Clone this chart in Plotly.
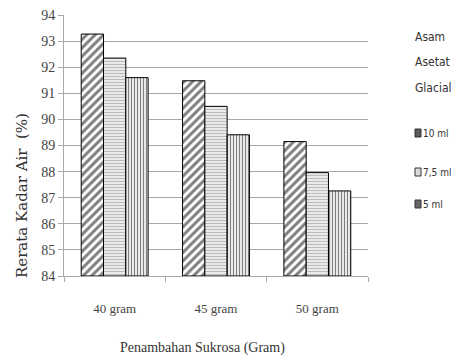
import plotly.graph_objects as go

categories = ["40 gram", "45 gram", "50 gram"]
series_names = ["10 ml", "7,5 ml", "5 ml"]
val_10ml = [93.27, 91.48, 89.15]
val_75ml = [92.35, 90.50, 87.96]
val_5ml = [91.60, 89.41, 87.26]
y_ticks = [84, 85, 86, 87, 88, 89, 90, 91, 92, 93, 94]
legend_title = ["Asam", "Asetat", "Glacial"]

series_values = [val_10ml, val_75ml, val_5ml]
patterns = [
    dict(shape="/", fgcolor="black", bgcolor="white", size=6, solidity=0.5),
    dict(shape="-", fgcolor="#8a8a8a", bgcolor="#efefef", size=3, solidity=0.4),
    dict(shape="|", fgcolor="black", bgcolor="white", size=3, solidity=0.45),
]
legend_fill = ["#5a5a5a", "#dcdcdc", "#666666"]

# page body has an 8px margin; plot area in page pixels: x 64..368, y 15..276
PX0, PX1, PY0, PY1 = 64, 368, 15, 276


def fx(px):
    return (px - PX0) / (PX1 - PX0)


def fy(py):
    return (PY1 - py) / (PY1 - PY0)


fig = go.Figure()
for i, (name, vals) in enumerate(zip(series_names, series_values)):
    fig.add_trace(go.Bar(
        x=categories, y=[v - 84 for v in vals], base=84, name=name,
        marker=dict(color="white", pattern=patterns[i],
                    line=dict(color="black", width=1)),
        showlegend=False,
    ))

fig.update_layout(
    width=451, height=354,
    margin=dict(l=56, r=91, t=7, b=86, autoexpand=False),
    plot_bgcolor="white", paper_bgcolor="white",
    barmode="group", bargap=0.34, bargroupgap=0,
    font=dict(family="Liberation Serif", color="#333"),
    showlegend=False,
)
fig.update_yaxes(range=[84, 94], tickvals=y_ticks, showgrid=True, gridcolor="#a8a8a8",
                 gridwidth=1, showline=True, linecolor="#a8a8a8", ticks="outside",
                 tickcolor="#a8a8a8", ticklen=5, ticklabeloverflow="allow",
                 tickfont=dict(family="Liberation Serif", size=14, color="#444"),
                 zeroline=False)
fig.update_xaxes(showline=True, linecolor="#a8a8a8", ticks="outside", tickson="boundaries",
                 tickcolor="#a8a8a8", ticklen=5, ticklabelstandoff=20,
                 ticklabeloverflow="allow",
                 tickfont=dict(family="Liberation Serif", size=13, color="#444"))

fig.add_annotation(text="Rerata Kadar Air\u00a0 (%)", xref="paper", yref="paper",
                   x=fx(22), xanchor="center", y=fy(196), yanchor="middle",
                   textangle=-90, showarrow=False,
                   font=dict(family="DejaVu Serif", size=15, color="#333"))
fig.add_annotation(text="Penambahan Sukrosa (Gram)", xref="paper", yref="paper",
                   x=fx(202), xanchor="center", y=fy(348), yanchor="middle",
                   showarrow=False,
                   font=dict(family="Liberation Serif", size=14, color="#333"))
for txt, yy in zip(legend_title, [37, 62, 88]):
    fig.add_annotation(text=txt, xref="paper", yref="paper",
                       x=fx(413), xanchor="left",
                       y=fy(yy), yanchor="middle", showarrow=False,
                       font=dict(family="DejaVu Sans Condensed", size=12, color="#333"))

for name, col, yy in zip(series_names, legend_fill, [133, 172, 204]):
    fig.add_shape(type="rect", xref="paper", yref="paper",
                  x0=fx(415), x1=fx(421), y0=fy(yy - 4), y1=fy(yy + 4),
                  fillcolor=col, line=dict(color="#333", width=1))
    fig.add_annotation(text=name, xref="paper", yref="paper",
                       x=fx(421), xanchor="left", y=fy(yy), yanchor="middle",
                       showarrow=False,
                       font=dict(family="DejaVu Sans Condensed", size=10, color="#333"))

fig.write_html("out.html")
